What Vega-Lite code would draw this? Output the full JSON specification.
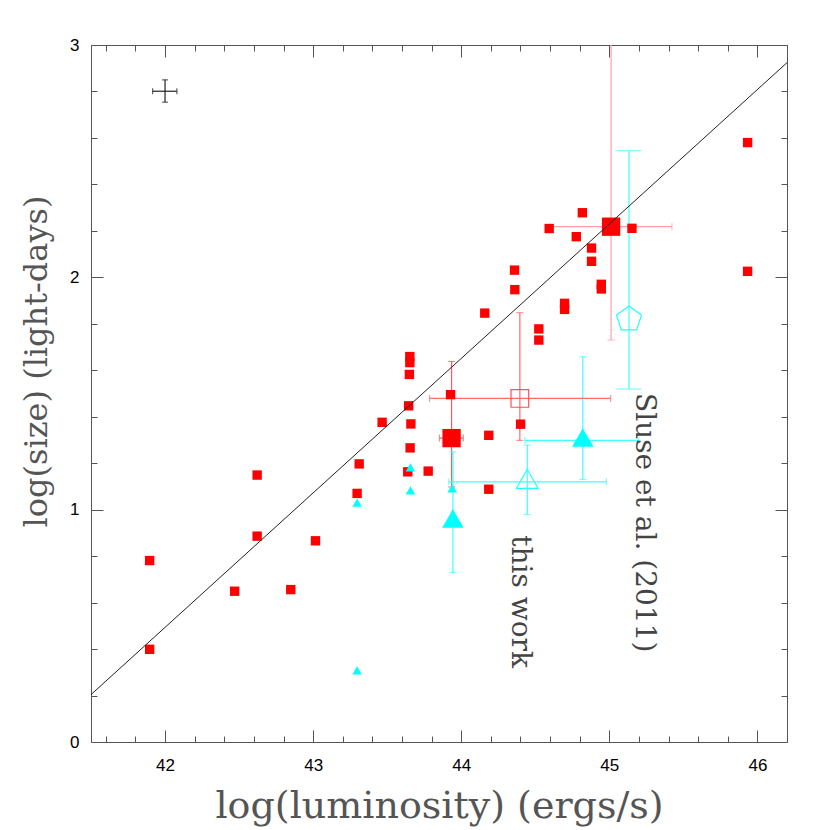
{
  "$schema": "https://vega.github.io/schema/vega-lite/v6.json",
  "autosize": {"type": "none"},
  "padding": {"left": 91, "top": 45, "right": 43, "bottom": 88},
  "width": 696,
  "height": 697,
  "background": "white",
  "config": {"view": {"stroke": null}, "axis": {"grid": false}},
  "datasets": {
    "pts": [
      {"x": 41.896, "y": 0.781, "kind": "sq"},
      {"x": 41.896, "y": 0.399, "kind": "sq"},
      {"x": 42.470, "y": 0.649, "kind": "sq"},
      {"x": 42.622, "y": 1.149, "kind": "sq"},
      {"x": 42.622, "y": 0.886, "kind": "sq"},
      {"x": 42.849, "y": 0.656, "kind": "sq"},
      {"x": 43.016, "y": 0.866, "kind": "sq"},
      {"x": 43.311, "y": 1.197, "kind": "sq"},
      {"x": 43.297, "y": 1.070, "kind": "sq"},
      {"x": 43.466, "y": 1.376, "kind": "sq"},
      {"x": 43.655, "y": 1.266, "kind": "sq"},
      {"x": 43.639, "y": 1.163, "kind": "sq"},
      {"x": 43.777, "y": 1.166, "kind": "sq"},
      {"x": 43.653, "y": 1.659, "kind": "sq"},
      {"x": 43.653, "y": 1.633, "kind": "sq"},
      {"x": 43.650, "y": 1.582, "kind": "sq"},
      {"x": 43.645, "y": 1.447, "kind": "sq"},
      {"x": 43.660, "y": 1.369, "kind": "sq"},
      {"x": 43.928, "y": 1.495, "kind": "sq"},
      {"x": 44.186, "y": 1.320, "kind": "sq"},
      {"x": 44.186, "y": 1.088, "kind": "sq"},
      {"x": 44.401, "y": 1.368, "kind": "sq"},
      {"x": 44.159, "y": 1.846, "kind": "sq"},
      {"x": 44.360, "y": 2.031, "kind": "sq"},
      {"x": 44.362, "y": 1.947, "kind": "sq"},
      {"x": 44.524, "y": 1.778, "kind": "sq"},
      {"x": 44.524, "y": 1.730, "kind": "sq"},
      {"x": 44.698, "y": 1.862, "kind": "sq"},
      {"x": 44.698, "y": 1.888, "kind": "sq"},
      {"x": 44.946, "y": 1.950, "kind": "sq"},
      {"x": 44.946, "y": 1.970, "kind": "sq"},
      {"x": 44.594, "y": 2.210, "kind": "sq"},
      {"x": 44.818, "y": 2.278, "kind": "sq"},
      {"x": 44.777, "y": 2.175, "kind": "sq"},
      {"x": 44.880, "y": 2.126, "kind": "sq"},
      {"x": 44.880, "y": 2.069, "kind": "sq"},
      {"x": 45.153, "y": 2.211, "kind": "sq"},
      {"x": 45.934, "y": 2.580, "kind": "sq"},
      {"x": 45.934, "y": 2.026, "kind": "sq"},
      {"x": 43.297, "y": 1.025, "kind": "tri"},
      {"x": 43.297, "y": 0.303, "kind": "tri"},
      {"x": 43.657, "y": 1.176, "kind": "tri"},
      {"x": 43.657, "y": 1.077, "kind": "tri"},
      {"x": 43.939, "y": 1.086, "kind": "tri"},
      {"x": 43.935, "y": 1.308, "kind": "bigsq1", "xlo": 43.853, "xhi": 44.014, "ylo": 1.098, "yhi": 1.638},
      {"x": 45.012, "y": 2.218, "kind": "bigsq2", "xlo": 44.599, "xhi": 45.423, "ylo": 1.730, "yhi": 3.5},
      {"x": 44.396, "y": 1.479, "kind": "opensq", "xlo": 43.786, "xhi": 45.009, "ylo": 1.298, "yhi": 1.848},
      {"x": 43.944, "y": 0.950, "kind": "bigtri", "ylo": 0.730, "yhi": 1.249},
      {"x": 44.821, "y": 1.298, "kind": "bigtri", "xlo": 44.43, "xhi": 45.2, "ylo": 1.130, "yhi": 1.658},
      {"x": 44.446, "y": 1.120, "kind": "opentri", "xlo": 43.916, "xhi": 44.98, "ylo": 0.979, "yhi": 1.278},
      {"x": 45.133, "y": 1.820, "kind": "pent", "ylo": 1.519, "yhi": 2.545},
      {"x": 42.0, "y": 2.801, "kind": "cal", "xlo": 41.916, "xhi": 42.08, "ylo": 2.754, "yhi": 2.85}
    ],
    "fit": [{"x": 41.5, "y": 0.204}, {"x": 46.2, "y": 2.924}],
    "notes": [
      {"x": 44.40, "y": 0.89, "label": "this work"},
      {"x": 45.233, "y": 1.502, "label": "Sluse et al. (2011)"}
    ]
  },
  "resolve": {"axis": {"x": "independent", "y": "independent"}},
  "layer": [
    {
      "data": {"name": "pts"},
      "transform": [{"filter": "isValid(datum.ylo)"}],
      "mark": {"type": "rule", "strokeWidth": 1.2, "clip": true},
      "encoding": {
        "x": {"field": "x", "type": "quantitative", "axis": null, "scale": {"domain": [41.5, 46.2], "nice": false, "zero": false}},
        "y": {"field": "ylo", "type": "quantitative", "axis": null, "scale": {"domain": [0, 3], "nice": false, "zero": false}},
        "y2": {"field": "yhi"},
        "stroke": {"field": "kind", "type": "nominal", "legend": null,
          "scale": {"domain": ["bigsq1", "bigsq2", "opensq", "bigtri", "opentri", "pent", "cal"], "range": ["#ff5a5a", "#ffa0a0", "#ff6a6a", "#40ffff", "#40ffff", "#40ffff", "#222222"]}}
      }
    },
    {
      "data": {"name": "pts"},
      "transform": [{"filter": "isValid(datum.xlo)"}],
      "mark": {"type": "rule", "strokeWidth": 1.2, "clip": true},
      "encoding": {
        "x": {"field": "xlo", "type": "quantitative", "axis": null},
        "x2": {"field": "xhi"},
        "y": {"field": "y", "type": "quantitative", "axis": null},
        "stroke": {"field": "kind", "type": "nominal", "legend": null,
          "scale": {"domain": ["bigsq1", "bigsq2", "opensq", "bigtri", "opentri", "pent", "cal"], "range": ["#ff5a5a", "#ffa0a0", "#ff6a6a", "#40ffff", "#40ffff", "#40ffff", "#222222"]}}
      }
    },
    {
      "data": {"name": "pts"},
      "transform": [{"filter": "isValid(datum.ylo)"}, {"fold": ["ylo", "yhi"], "as": ["end", "yv"]}],
      "mark": {"type": "tick", "orient": "horizontal", "thickness": 1.2, "clip": true},
      "encoding": {
        "x": {"field": "x", "type": "quantitative", "axis": null},
        "y": {"field": "yv", "type": "quantitative", "axis": null},
        "size": {"field": "kind", "type": "nominal", "legend": null,
          "scale": {"type": "ordinal", "domain": ["bigsq1", "bigsq2", "opensq", "bigtri", "opentri", "pent", "cal"], "range": [7, 7, 7, 7, 7, 25, 6]}},
        "color": {"field": "kind", "type": "nominal", "legend": null,
          "scale": {"domain": ["bigsq1", "bigsq2", "opensq", "bigtri", "opentri", "pent", "cal"], "range": ["#ff5a5a", "#ffa0a0", "#ff6a6a", "#40ffff", "#40ffff", "#40ffff", "#222222"]}}
      }
    },
    {
      "data": {"name": "pts"},
      "transform": [{"filter": "isValid(datum.xlo)"}, {"fold": ["xlo", "xhi"], "as": ["end", "xv"]}],
      "mark": {"type": "tick", "orient": "vertical", "thickness": 1.2, "clip": true},
      "encoding": {
        "x": {"field": "xv", "type": "quantitative", "axis": null},
        "y": {"field": "y", "type": "quantitative", "axis": null},
        "size": {"field": "kind", "type": "nominal", "legend": null,
          "scale": {"type": "ordinal", "domain": ["bigsq1", "bigsq2", "opensq", "bigtri", "opentri", "pent", "cal"], "range": [7, 7, 7, 7, 7, 25, 6]}},
        "color": {"field": "kind", "type": "nominal", "legend": null,
          "scale": {"domain": ["bigsq1", "bigsq2", "opensq", "bigtri", "opentri", "pent", "cal"], "range": ["#ff5a5a", "#ffa0a0", "#ff6a6a", "#40ffff", "#40ffff", "#40ffff", "#222222"]}}
      }
    },
    {
      "data": {"name": "pts"},
      "transform": [{"filter": "datum.kind == 'sq'"}],
      "mark": {"type": "point", "shape": "square", "filled": true, "color": "#ff0000", "opacity": 1, "size": 88},
      "encoding": {
        "x": {"field": "x", "type": "quantitative", "axis": null},
        "y": {"field": "y", "type": "quantitative", "axis": null}
      }
    },
    {
      "data": {"name": "pts"},
      "transform": [{"filter": "datum.kind == 'bigsq1' || datum.kind == 'bigsq2'"}],
      "mark": {"type": "point", "shape": "square", "filled": true, "color": "#ff0000", "opacity": 1, "size": 335},
      "encoding": {
        "x": {"field": "x", "type": "quantitative", "axis": null},
        "y": {"field": "y", "type": "quantitative", "axis": null}
      }
    },
    {
      "data": {"name": "pts"},
      "transform": [{"filter": "datum.kind == 'opensq'"}],
      "mark": {"type": "point", "shape": "square", "filled": false, "color": "#ff5050", "strokeWidth": 1.2, "opacity": 1, "size": 313},
      "encoding": {
        "x": {"field": "x", "type": "quantitative", "axis": null},
        "y": {"field": "y", "type": "quantitative", "axis": null}
      }
    },
    {
      "data": {"name": "pts"},
      "transform": [{"filter": "datum.kind == 'tri'"}],
      "mark": {"type": "point", "shape": "M0,-1.14L1,0.6L-1,0.6Z", "filled": true, "color": "#00ffff", "opacity": 1, "size": 90},
      "encoding": {
        "x": {"field": "x", "type": "quantitative", "axis": null},
        "y": {"field": "y", "type": "quantitative", "axis": null}
      }
    },
    {
      "data": {"name": "pts"},
      "transform": [{"filter": "datum.kind == 'bigtri'"}],
      "mark": {"type": "point", "shape": "M0,-1.14L1,0.6L-1,0.6Z", "filled": true, "color": "#00ffff", "opacity": 1, "size": 460},
      "encoding": {
        "x": {"field": "x", "type": "quantitative", "axis": null},
        "y": {"field": "y", "type": "quantitative", "axis": null}
      }
    },
    {
      "data": {"name": "pts"},
      "transform": [{"filter": "datum.kind == 'opentri'"}],
      "mark": {"type": "point", "shape": "M0,-1.14L1,0.6L-1,0.6Z", "filled": false, "color": "#20ffff", "strokeWidth": 1.2, "opacity": 1, "size": 470},
      "encoding": {
        "x": {"field": "x", "type": "quantitative", "axis": null},
        "y": {"field": "y", "type": "quantitative", "axis": null}
      }
    },
    {
      "data": {"name": "pts"},
      "transform": [{"filter": "datum.kind == 'pent'"}],
      "mark": {"type": "point", "shape": "M0,-1L0.951,-0.309L0.588,0.809L-0.588,0.809L-0.951,-0.309Z", "filled": false, "color": "#20ffff", "strokeWidth": 1.2, "opacity": 1, "size": 690},
      "encoding": {
        "x": {"field": "x", "type": "quantitative", "axis": null},
        "y": {"field": "y", "type": "quantitative", "axis": null}
      }
    },
    {
      "data": {"name": "notes"},
      "mark": {"type": "text", "angle": 90, "align": "left", "baseline": "middle", "font": "DejaVu Serif", "fontSize": 28, "color": "#444444"},
      "encoding": {
        "text": {"field": "label"},
        "x": {"field": "x", "type": "quantitative",
          "axis": {"orient": "top", "values": [41.6, 41.8, 42, 42.2, 42.4, 42.6, 42.8, 43, 43.2, 43.4, 43.6, 43.8, 44, 44.2, 44.4, 44.6, 44.8, 45, 45.2, 45.4, 45.6, 45.8, 46],
            "tickSize": {"condition": {"test": "abs(datum.value - round(datum.value)) < 0.01", "value": -12}, "value": -6},
            "tickColor": "#555555", "tickWidth": 1, "domainColor": "#555555", "domainWidth": 1, "labels": false, "title": null}},
        "y": {"field": "y", "type": "quantitative",
          "axis": {"orient": "right", "values": [0, 0.2, 0.4, 0.6, 0.8, 1, 1.2, 1.4, 1.6, 1.8, 2, 2.2, 2.4, 2.6, 2.8, 3],
            "tickSize": {"condition": {"test": "abs(datum.value - round(datum.value)) < 0.01", "value": -12}, "value": -6},
            "tickColor": "#555555", "tickWidth": 1, "domainColor": "#555555", "domainWidth": 1, "labels": false, "title": null}}
      }
    },
    {
      "data": {"name": "fit"},
      "mark": {"type": "line", "color": "#222222", "strokeWidth": 1, "clip": true},
      "encoding": {
        "x": {"field": "x", "type": "quantitative",
          "axis": {"orient": "bottom", "values": [41.6, 41.8, 42, 42.2, 42.4, 42.6, 42.8, 43, 43.2, 43.4, 43.6, 43.8, 44, 44.2, 44.4, 44.6, 44.8, 45, 45.2, 45.4, 45.6, 45.8, 46],
            "tickSize": {"condition": {"test": "abs(datum.value - round(datum.value)) < 0.01", "value": -12}, "value": -6},
            "tickColor": "#555555", "tickWidth": 1, "domainColor": "#555555", "domainWidth": 1,
            "labelExpr": "abs(datum.value - round(datum.value)) < 0.01 ? format(datum.value, '.0f') : ''",
            "labelFont": "Liberation Sans", "labelFontSize": 17, "labelColor": "#000000", "labelPadding": 27,
            "labelOverlap": false, "labelFlush": false, "labelBound": false,
            "title": "log(luminosity) (ergs/s)", "titleFont": "DejaVu Serif", "titleFontSize": 38, "titleFontWeight": "normal", "titleColor": "#555555", "titlePadding": 8}},
        "y": {"field": "y", "type": "quantitative",
          "axis": {"orient": "left", "values": [0, 0.2, 0.4, 0.6, 0.8, 1, 1.2, 1.4, 1.6, 1.8, 2, 2.2, 2.4, 2.6, 2.8, 3],
            "tickSize": {"condition": {"test": "abs(datum.value - round(datum.value)) < 0.01", "value": -12}, "value": -6},
            "tickColor": "#555555", "tickWidth": 1, "domainColor": "#555555", "domainWidth": 1,
            "labelExpr": "abs(datum.value - round(datum.value)) < 0.01 ? format(datum.value, '.0f') : ''",
            "labelFont": "Liberation Sans", "labelFontSize": 17, "labelColor": "#000000", "labelPadding": 24,
            "labelOverlap": false, "labelFlush": false, "labelBound": false,
            "title": "log(size) (light-days)", "titleFont": "DejaVu Serif", "titleFontSize": 32, "titleFontWeight": "normal", "titleColor": "#555555", "titlePadding": 16, "titleY": 316}}
      }
    }
  ]
}
